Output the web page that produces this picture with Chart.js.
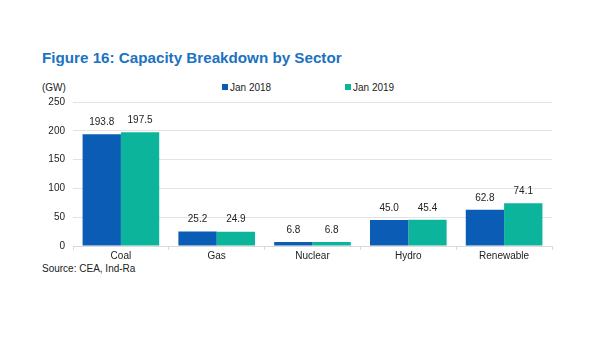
<!DOCTYPE html>
<html>
<head>
<meta charset="utf-8">
<script src="https://cdn.jsdelivr.net/npm/chart.js@4"></script>
<style>
  body { margin: 0; background: #fff; font-family: "Liberation Sans", Arial, sans-serif; }
  #wrap { position: relative; width: 600px; height: 354px; }
  #title { position: absolute; left: 42px; top: 49px; font-size: 15.2px; font-weight: bold; color: #1b72c2; }
  .note { position: absolute; font-size: 10px; color: #222; }
  .sw { display: inline-block; width: 6px; height: 6px; margin-right: 2px; vertical-align: 1px; }
</style>
</head>
<body>
<div id="wrap">
  <div id="title">Figure 16: Capacity Breakdown by Sector</div>
  <div class="note" style="left:42px; top:82px;">(GW)</div>
  <div class="note" style="left:222px; top:82px;"><span class="sw" style="background:#0a5cb4"></span>Jan 2018</div>
  <div class="note" style="left:345px; top:82px;"><span class="sw" style="background:#0db49c"></span>Jan 2019</div>
  <div class="note" style="left:42px; top:263px;">Source: CEA, Ind-Ra</div>
  <canvas id="myChart" width="600" height="354" style="position:absolute; left:0; top:0;"></canvas>
</div>
<script>
var sectors = ["Coal", "Gas", "Nuclear", "Hydro", "Renewable"];
var jan2018 = [193.8, 25.2, 6.8, 45.0, 62.8];
var jan2019 = [197.5, 24.9, 6.8, 45.4, 74.1];
var yTicks = [0, 50, 100, 150, 200, 250];

// value labels above each bar
var barLabels = {
    id: "barLabels",
    afterDatasetsDraw: function (chart) {
        var ctx = chart.ctx;
        ctx.save();
        ctx.font = "10px 'Liberation Sans', Arial, sans-serif";
        ctx.fillStyle = "#222";
        ctx.textAlign = "center";
        ctx.textBaseline = "bottom";
        chart.data.datasets.forEach(function (ds, i) {
            chart.getDatasetMeta(i).data.forEach(function (bar, j) {
                ctx.fillText(ds.data[j].toFixed(1), bar.x, bar.y - 7);
            });
        });
        ctx.restore();
    },
};

var ctx = document.getElementById("myChart").getContext("2d");

var myChart = new Chart(ctx, {
    type: "bar",
    data: {
        labels: sectors,
        datasets: [
            {
                label: "Jan 2018",
                data: jan2018,
                backgroundColor: "#0a5cb4",
            },
            {
                label: "Jan 2019",
                data: jan2019,
                backgroundColor: "#0db49c",
            },
        ],
    },
    options: {
        responsive: false,
        animation: false,
        categoryPercentage: 0.8,
        barPercentage: 1.0,
        layout: { padding: { left: 0, right: 48, top: 102, bottom: 84 } },
        plugins: {
            legend: { display: false },
            tooltip: { enabled: false },
        },
        scales: {
            x: {
                grid: {
                    offset: true,
                    drawOnChartArea: false,
                    drawTicks: true,
                    tickLength: 4,
                    color: "#d9d9d9",
                },
                border: { color: "#d9d9d9" },
                ticks: {
                    color: "#222",
                    font: { family: "'Liberation Sans', Arial, sans-serif", size: 10 },
                    padding: 0,
                },
                afterFit: function (s) { s.height = 24; },
            },
            y: {
                min: 0,
                max: 250,
                afterBuildTicks: function (s) {
                    s.ticks = yTicks.map(function (v) { return { value: v }; });
                },
                grid: { color: "#e3e3e3", drawTicks: false },
                border: { display: false },
                ticks: {
                    color: "#222",
                    padding: 8,
                    font: { family: "'Liberation Sans', Arial, sans-serif", size: 10 },
                },
                afterFit: function (s) { s.width = 73; },
            },
        },
    },
    plugins: [barLabels],
});
</script>
</body>
</html>
